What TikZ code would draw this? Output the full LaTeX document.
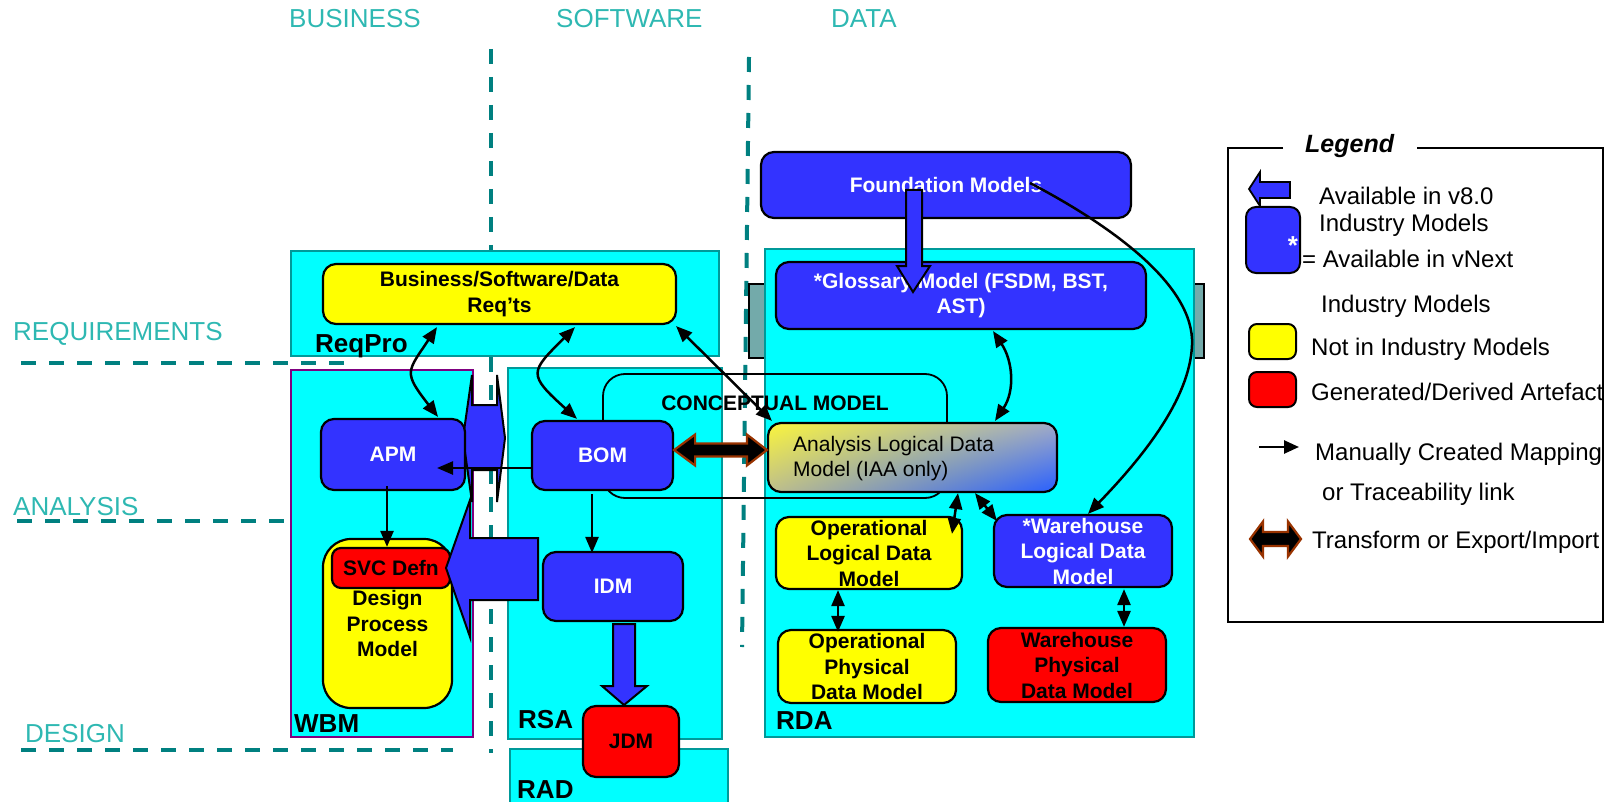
\documentclass[tikz,border=0pt]{standalone}
\usepackage{fontspec}
\setmainfont{Liberation Sans}
\usetikzlibrary{arrows.meta,calc,shadings}
\definecolor{blueM}{RGB}{51,51,255}
\definecolor{cyanC}{RGB}{0,255,255}
\definecolor{tealB}{RGB}{0,153,153}
\definecolor{tealD}{RGB}{0,128,128}
\definecolor{tealL}{RGB}{46,184,178}
\definecolor{brownA}{RGB}{153,51,0}
\definecolor{purpleB}{RGB}{128,0,128}
\definecolor{hatchC}{RGB}{115,170,170}
\definecolor{yelC}{RGB}{255,255,0}
\definecolor{gUL}{RGB}{250,245,60}
\definecolor{gUR}{RGB}{160,170,200}
\definecolor{gLL}{RGB}{190,190,140}
\definecolor{gLR}{RGB}{40,95,255}
\newcommand\setfs[2]{\fontsize{#1}{#2}\selectfont}
\tikzset{
 cont/.style={draw=tealB, fill=cyanC, line width=1.5pt, inner sep=0pt},
 mbox/.style={draw=black, line width=2.2pt, rounded corners=13pt, inner sep=0pt, align=center, font=\setfs{21}{25.5}\bfseries},
 bluebox/.style={mbox, fill=blueM, text=white},
 yelbox/.style={mbox, fill=yelC},
 redbox/.style={mbox, fill=red},
 link/.style={line width=2.5pt, -{Triangle[length=16pt,width=13pt]}},
 dlink/.style={line width=2.5pt, {Triangle[length=16pt,width=13pt]}-{Triangle[length=16pt,width=13pt]}},
 blockarrow/.style={draw=black, line width=2pt, fill=blueM, line join=miter},
 xform/.style={draw=brownA, line width=2.2pt, fill=black, line join=miter},
 dashl/.style={draw=tealD, line width=4pt, dash pattern=on 15pt off 13pt},
 lane/.style={text=tealL, font=\setfs{26}{30}, anchor=base west, inner sep=0pt},
 clabel/.style={font=\setfs{26}{30}\bfseries, anchor=base west, inner sep=0pt},
 leg/.style={font=\setfs{24}{28}, anchor=base west, inner sep=0pt},
}
\begin{document}
\begin{tikzpicture}[x=1pt,y=-1pt]
\useasboundingbox (0,0) rectangle (1613,802);
% lane labels
\node[lane] (lbus) at (289,28) {BUSINESS};
\node[lane] (lsoft) at (556,28) {SOFTWARE};
\node[lane] (ldata) at (831,28) {DATA};
\node[lane] (lreq) at (13,340) {REQUIREMENTS};
\node[lane] (lana) at (13,515) {ANALYSIS};
\node[lane] (ldes) at (25,742) {DESIGN};
% dashed lane lines
\draw[dashl] (21,363) -- (347,363);
\draw[dashl] (17,521) -- (290,521);
\draw[dashl] (21,750) -- (453,750);
\draw[dashl] (491,49) -- (491,753);
\draw[dashl] (749,57) -- (742,647);
% hatched bar behind RDA
\node[draw=black, line width=1.8pt, fill=hatchC, minimum width=455pt, minimum height=74pt, inner sep=0pt] (hbar) at (976.5,321) {};
% containers
\node[cont, minimum width=428pt, minimum height=105pt] (reqpro) at (505,303.5) {};
\node[cont, draw=purpleB, minimum width=182pt, minimum height=367pt] (wbm) at (382,553.5) {};
\node[cont, minimum width=214pt, minimum height=371pt] (rsa) at (615,553.5) {};
\node[cont, minimum width=218pt, minimum height=61pt] (rad) at (619,779.5) {};
\node[cont, minimum width=429pt, minimum height=488pt] (rda) at (979.5,493) {};
\node[clabel] (lreqpro) at (315,352) {ReqPro};
\node[clabel] (lwbm) at (294,732) {WBM};
\node[clabel] (lrsa) at (518,728) {RSA};
\node[clabel] (lrad) at (517,798) {RAD};
\node[clabel] (lrda) at (776,729) {RDA};
% blue double block arrow between WBM and RSA
\draw[blockarrow] (463,438) -- (472,375) -- (472,405) -- (497,405) -- (497,375) -- (505,438) -- (497,502) -- (497,470) -- (472,470) -- (472,502) -- cycle;
% conceptual model frame
\node[draw=black, line width=1.8pt, rounded corners=22pt, minimum width=344pt, minimum height=124pt, inner sep=0pt] (concept) at (775,436) {};
\node[font=\setfs{21}{25}\bfseries, inner sep=0pt] (lconcept) at (775,403) {CONCEPTUAL MODEL};
% boxes
\node[yelbox, minimum width=353pt, minimum height=60pt] (reqts) at (499.5,294) {Business/Software/Data\\Req’ts};
\node[bluebox, minimum width=144pt, minimum height=71pt] (apm) at (393,454.5) {APM};
\node[yelbox, rounded corners=28pt, minimum width=129pt, minimum height=169pt] (dpm) at (387.5,623.5) {Design\\Process\\Model};
\node[redbox, rounded corners=9pt, minimum width=118pt, minimum height=40pt] (svc) at (391,568) {SVC Defn};
\node[bluebox, minimum width=141pt, minimum height=69pt] (bom) at (602.5,455.5) {BOM};
\node[bluebox, minimum width=140pt, minimum height=69pt] (idm) at (613,586.5) {IDM};
\node[redbox, minimum width=96pt, minimum height=71pt] (jdm) at (631,741.5) {JDM};
\node[bluebox, minimum width=370pt, minimum height=66pt] (found) at (946,185) {Foundation Models};
\node[bluebox, minimum width=370pt, minimum height=67pt] (gloss) at (961,295.5) {*Glossary Model (FSDM, BST,\\AST)};
\node[mbox, upper left=gUL, upper right=gUR, lower left=gLL, lower right=gLR, minimum width=289pt, minimum height=69pt] (aldm) at (912.5,457.5) {};
\node[font=\setfs{21}{25.5}, align=left, anchor=west, inner sep=0pt] (laldm) at (793,458.5) {Analysis Logical Data\\Model (IAA only)};
\node[yelbox, minimum width=186pt, minimum height=72pt] (oldm) at (869,553) {Operational\\Logical Data\\Model};
\node[bluebox, minimum width=178pt, minimum height=72pt] (wldm) at (1083,551) {*Warehouse\\Logical Data\\Model};
\node[yelbox, minimum width=178pt, minimum height=73pt] (opdm) at (867,666.5) {Operational\\Physical\\Data Model};
\node[redbox, minimum width=178pt, minimum height=74pt] (wpdm) at (1077,665) {Warehouse\\Physical\\Data Model};
% block arrows
\draw[blockarrow] (446,568) -- (470,500) -- (470,538) -- (538,538) -- (538,600) -- (470,600) -- (470,637) -- cycle;
\draw[blockarrow] (906,190) -- (922,190) -- (922,266) -- (930,266) -- (913,292) -- (897,266) -- (906,266) -- cycle;
\draw[blockarrow] (613,624) -- (635,624) -- (635,686) -- (647,686) -- (624,705) -- (602,686) -- (613,686) -- cycle;
% transform arrow BOM <-> ALDM
\coordinate (ta) at ($(bom.east)+(0,-5.5)$);
\coordinate (tb) at ($(aldm.west)+(0,-7.5)$);
\draw[xform] (ta) -- ($(ta)+(21,-15.5)$) -- ($(ta)+(21,-6.5)$) -- ($(tb)+(-20,-6.5)$) -- ($(tb)+(-20,-15.5)$) -- (tb) -- ($(tb)+(-20,15.5)$) -- ($(tb)+(-20,6.5)$) -- ($(ta)+(21,6.5)$) -- ($(ta)+(21,15.5)$) -- cycle;
% links
\draw[dlink] ($(reqts.south)+(-62.5,2)$) .. controls +(-30,45) and +(-35,-45) .. ($(apm.north)+(45,-1)$);
\draw[dlink] ($(reqts.south)+(75.5,2)$) .. controls +(-45,45) and +(-50,-45) .. ($(bom.north)+(-25.5,-1)$);
\draw[dlink] ($(reqts.south east)+(-1,1)$) -- ($(aldm.north west)+(5,-1)$);
\draw[dlink] ($(gloss.south)+(32,1)$) .. controls +(20,30) and +(20,-30) .. ($(aldm.north)+(82.5,-1)$);
\coordinate (fstart) at ($(found.center)+(84,-2)$);
\draw[link] (fstart) .. controls (1110,225) and (1195,285) .. (1192,345) .. controls (1190,400) and (1140,460) .. ($(wldm.north)+(5,0)$);
\draw[dlink] ($(aldm.south)+(45.5,0)$) -- ($(oldm.north)+(83,18)$);
\draw[dlink] ($(aldm.south)+(62.5,0)$) -- ($(wldm.north west)+(4,7)$);
\draw[dlink] ($(oldm.south)+(-31,0)$) -- ($(opdm.north)+(-29,3)$);
\draw[dlink] ($(wldm.south)+(41,1)$) -- ($(wpdm.north)+(47,0)$);
\draw[link] ($(apm.south)+(-6,-5)$) -- ($(svc.north)+(-4,0)$);
\draw[link] ($(bom.west)+(0,12.5)$) -- ($(apm.center)+(44,13.5)$);
\draw[link] ($(bom.south)+(-10.5,3)$) -- ($(idm.north)+(-21,2)$);
% legend
\draw[line width=2pt] (1283,148) -- (1228,148) -- (1228,622) -- (1603,622) -- (1603,148) -- (1417,148);
\node[font=\setfs{25}{30}\bfseries\itshape, anchor=base west, inner sep=0pt] (legt) at (1305,153) {Legend};
\draw[blockarrow, line width=1.8pt] (1249,189) -- (1260,172) -- (1260,182) -- (1290,182) -- (1290,198) -- (1260,198) -- (1260,206) -- cycle;
\node[draw=black, line width=2pt, fill=blueM, rounded corners=10pt, minimum width=54pt, minimum height=66pt, inner sep=0pt] (legblue) at (1273,240) {};
\node[text=white, font=\setfs{26}{30}\bfseries, inner sep=0pt] (legstar) at (1293,246) {*};
\node[draw=black, line width=2pt, fill=yelC, rounded corners=8pt, minimum width=47pt, minimum height=35pt, inner sep=0pt] (legyel) at (1272.5,341.5) {};
\node[draw=black, line width=2pt, fill=red, rounded corners=8pt, minimum width=47pt, minimum height=35pt, inner sep=0pt] (legred) at (1272.5,389.5) {};
\coordinate (lma) at (1259,447);
\coordinate (lmb) at (1299,447);
\draw[line width=2.5pt, -{Triangle[length=15pt,width=13pt]}] (lma) -- (lmb);
\draw[xform] (1250,539) -- (1263,521.5) -- (1263,532) -- (1288,532) -- (1288,521.5) -- (1301,539) -- (1288,556.5) -- (1288,546) -- (1263,546) -- (1263,556.5) -- cycle;
\node[leg] (lg1) at (1319,205) {Available in v8.0};
\node[leg] (lg2) at (1319,232) {Industry Models};
\node[leg] (lg3) at (1302,267) {= Available in vNext};
\node[leg] (lg4) at (1321,312) {Industry Models};
\node[leg] (lg5) at (1311,355) {Not in Industry Models};
\node[leg] (lg6) at (1311,400) {Generated/Derived Artefact};
\node[leg] (lg7) at (1315,460) {Manually Created Mapping};
\node[leg] (lg8) at (1322,500) {or Traceability link};
\node[leg] (lg9) at (1312,548) {Transform or Export/Import};
\end{tikzpicture}
\end{document}
